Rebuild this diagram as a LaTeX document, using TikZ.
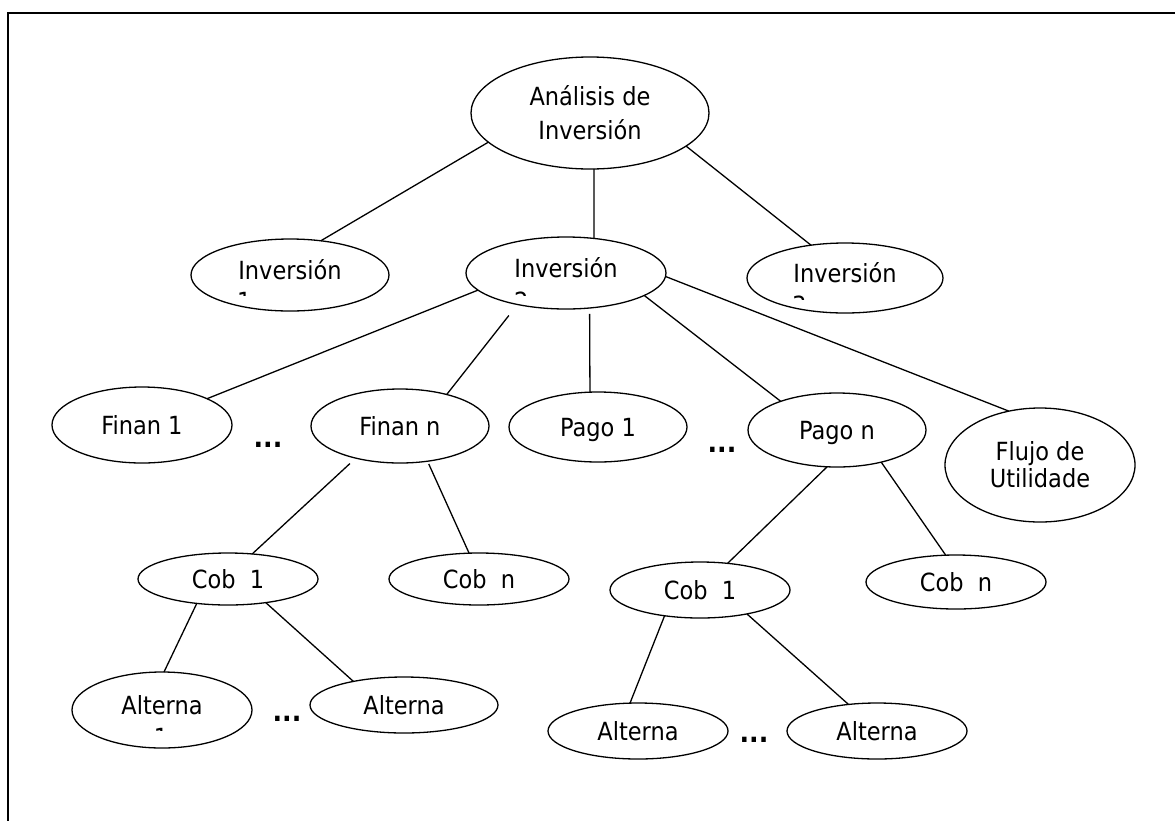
\documentclass[tikz,border=0pt]{standalone}
\usepackage{fontspec}
\setmainfont{DejaVu Sans Condensed}
\usetikzlibrary{shapes.geometric}
\begin{document}
\begin{tikzpicture}[x=1pt,y=-1pt,
  txt/.style={font=\fontsize{25}{30}\selectfont},
  bub/.style 2 args={draw, ellipse, line width=1.3pt, inner sep=0pt, outer sep=0pt,
    minimum width=2*#1, minimum height=2*#2, txt},
  one/.style={text height=18pt, text depth=0pt},
  upper/.style={text height=18pt, text depth=9pt},
  link/.style={line width=1.3pt},
  etc/.style={font=\fontsize{28}{30}\selectfont\bfseries, inner sep=0pt, anchor=base},
  frag/.style={txt, inner sep=0pt}]
\useasboundingbox (0,0) rectangle (1175,820);
\clip (0,0) rectangle (1175,820);

% frame
\draw[line width=2pt] (8,840) -- (8,13) -- (1190,13);

% tree nodes
\node[bub={119}{56}, align=center] (root) at (590,113) {Análisis de\\[4pt]Inversión};
\node[bub={99}{36}, upper] (inv1) at (290,275) {Inversión};
\node[bub={100}{36}, upper] (inv2) at (566,273) {Inversión};
\node[bub={98}{35}, upper] (inv3) at (845,278) {Inversión};

\node[bub={90}{38}, one] (fin1) at (142,425) {Finan 1};
\node[bub={89}{37}, one] (finn) at (400,426) {Finan n};
\node[bub={89}{35}, one] (pago1) at (598,427) {Pago 1};
\node[bub={89}{37}, one] (pagon) at (837,430) {Pago n};
\node[bub={95}{57}, align=center] (flujo) at (1040,465) {Flujo de\\[-3pt]Utilidade};

\node[bub={90}{26}, one] (cob1L) at (228,579) {Cob~~1};
\node[bub={90}{26}, one] (cobnL) at (479,579) {Cob~~n};
\node[bub={90}{28}, one] (cob1R) at (700,590) {Cob~~1};
\node[bub={90}{27}, one] (cobnR) at (956,582) {Cob~~n};

\node[bub={90}{38}, text height=18pt, text depth=10pt] (alt1L) at (162,710) {Alterna};
\node[bub={94}{28}, one] (alt2L) at (404,705) {Alterna};
\node[bub={90}{28}, one] (alt1R) at (638,731) {Alterna};
\node[bub={90}{28}, one] (alt2R) at (877,731) {Alterna};

% second text lines, cut off by their boxes
\begin{scope}
  \clip (230,284) rectangle (280,295);
  \node[frag, anchor=base west] (inv1b) at (237,310) {1};
\end{scope}
\begin{scope}
  \clip (505,284) rectangle (560,295);
  \node[frag, anchor=base west] (inv2b) at (514,310) {2};
\end{scope}
\begin{scope}
  \clip (785,289) rectangle (840,299);
  \node[frag, anchor=base west] (inv3b) at (792,314) {3};
\end{scope}
\begin{scope}
  \clip (140,722) rectangle (185,730);
  \node[frag, anchor=base] (alt1Lb) at (161,746) {1};
\end{scope}

% ellipsis marks
\node[etc] (e1) at (268,447) {...};
\node[etc] (e2) at (722,452) {...};
\node[etc] (e3) at (287,721) {...};
\node[etc] (e4) at (754,742) {...};

% connectors
\draw[link] (root.196) -- (inv1.48);
\draw[link] (root.274) -- (inv2.51);
\draw[link] (root.-19) -- (inv3.136);

\draw[link] (inv2.191) -- (fin1.22);
\draw[link, shorten <=14pt] (inv2.213) -- (finn.34);
\draw[link, shorten <=6pt] (inv2.-56) -- (pago1.103);
\draw[link] (inv2.-16) -- (pagon.153);
\draw[link] (inv2.-2) -- (flujo.120);

\draw[link, shorten <=8pt] (finn.216) -- (cob1L.46);
\draw[link, shorten <=3pt] (finn.-52) -- (cobnL.111);
\draw[link] (cob1L.218) -- (alt1L.87);
\draw[link] (cob1L.-32) -- (alt2L.155);

\draw[link] (pagon.255) -- (cob1R.44);
\draw[link] (pagon.-36) -- (cobnR.111);
\draw[link] (cob1R.216) -- (alt1R.106);
\draw[link] (cob1R.-27) -- (alt2R.137);
\end{tikzpicture}
\end{document}
